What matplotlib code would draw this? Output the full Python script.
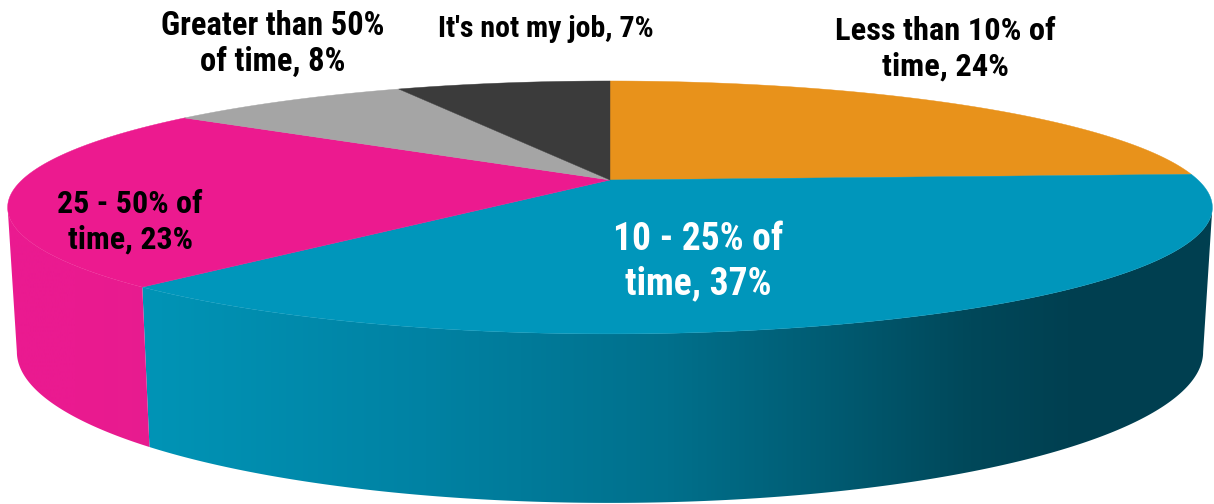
import numpy as np
import matplotlib
matplotlib.use("Agg")
import matplotlib.pyplot as plt
from matplotlib.patches import Polygon
from matplotlib.colors import LinearSegmentedColormap
from matplotlib import font_manager as fm

categories = ["Less than 10% of time", "10 - 25% of time", "25 - 50% of time",
              "Greater than 50% of time", "It's not my job"]
shares = [24, 37, 23, 8, 7]
colors = ["#E8921B", "#0096BB", "#EC1A8F", "#A5A5A5", "#3B3B3B"]

# Wrapped label text and placement (centre x, centre y, size, colour, line spacing)
label_heads = ["Less than 10% of", "10 - 25% of", "25 - 50% of", "Greater than 50%", "It's not my job,"]
label_tails = ["time,", "time,", "time,", "of time,", ""]
label_pos = [(945, 49, 23.4, "black", 1.25), (698, 262, 27, "white", 1.26), (130, 222, 23, "black", 1.25),
             (273, 44, 23.5, "black", 1.13), (546, 29, 21.5, "black", 1.0)]

W, H = 1214, 504
available = {f.name for f in fm.fontManager.ttflist}
family = next((f for f in ["Roboto Condensed", "Archivo Narrow", "Liberation Sans Narrow", "Roboto"]
               if f in available))

fig = plt.figure(figsize=(W / 100, H / 100), dpi=100)
ax = fig.add_axes([0, 0, 1, 1])
ax.set_xlim(0, W)
ax.set_ylim(H, 0)
ax.axis("off")

# Perspective projection of the unit disc onto the page
CX, TOP_Y, BOT_Y = 610, 180, 319
PERSP = 0.217
TOP_SX, TOP_SY = 588, 120.5
BOT_SX, BOT_SY = 579, 144


def rim(t_deg, sx, sy, cy):
    t = np.radians(t_deg)
    x, y = np.sin(t), np.cos(t)
    d = 1 + PERSP * y
    return np.column_stack([CX + sx * x / d, cy - sy * y / d])


def top_rim(t):
    return rim(t, TOP_SX, TOP_SY, TOP_Y)


def bottom_rim(t):
    return rim(t, BOT_SX, BOT_SY, BOT_Y)


edges = np.concatenate([[0], np.cumsum(shares)]) * 360 / sum(shares)
t_right = np.degrees(np.arccos(-PERSP))
t_left = 360 - t_right


def side_patch(a, b, cmap, zorder):
    """Outer wall between two angles, filled with a horizontal gradient."""
    ts = np.linspace(a, b, 200)
    pts = np.vstack([top_rim(ts), bottom_rim(ts[::-1])])
    poly = Polygon(pts, closed=True, fc="none", ec="none", transform=ax.transData)
    ax.add_patch(poly)
    grad = np.linspace(0, 1, 512).reshape(1, -1)
    im = ax.imshow(grad, extent=(0, W, H, 0), cmap=cmap, aspect="auto", zorder=zorder, interpolation="bilinear")
    im.set_clip_path(poly)


teal_wall = LinearSegmentedColormap.from_list("teal_wall", [
    (0.0, "#0096B8"), (0.12, "#0094B6"), (0.35, "#0082A3"), (0.55, "#00708C"), (0.68, "#005C73"),
    (0.80, "#00485A"), (0.88, "#004051"), (1.0, "#003F50")])
pink_wall = LinearSegmentedColormap.from_list("pink_wall", [
    (0.0, "#EA1A90"), (0.06, "#EA1A90"), (0.13, "#E71C8F"), (1.0, "#E71C8F")])

side_patch(t_right, edges[2], teal_wall, 1)
side_patch(edges[2], t_left, pink_wall, 1)

# Top face slices
apex = np.array([[CX, TOP_Y]])
for a, b, c in zip(edges[:-1], edges[1:], colors):
    ts = np.linspace(a, b, 200)
    ax.add_patch(Polygon(np.vstack([apex, top_rim(ts)]), closed=True, fc=c, ec=c, lw=0.3, zorder=2))

for share, head, tail, (x, y, size, col, ls) in zip(shares, label_heads, label_tails, label_pos):
    text = f"{head} {share}%" if not tail else f"{head}\n{tail} {share}%"
    ax.text(x, y, text, ha="center", va="center", fontsize=size, color=col, family=family,
            weight="bold", linespacing=ls, zorder=3)

ax.set_xlim(0, W)
ax.set_ylim(H, 0)
fig.savefig("out.png", dpi=100, facecolor="white")
